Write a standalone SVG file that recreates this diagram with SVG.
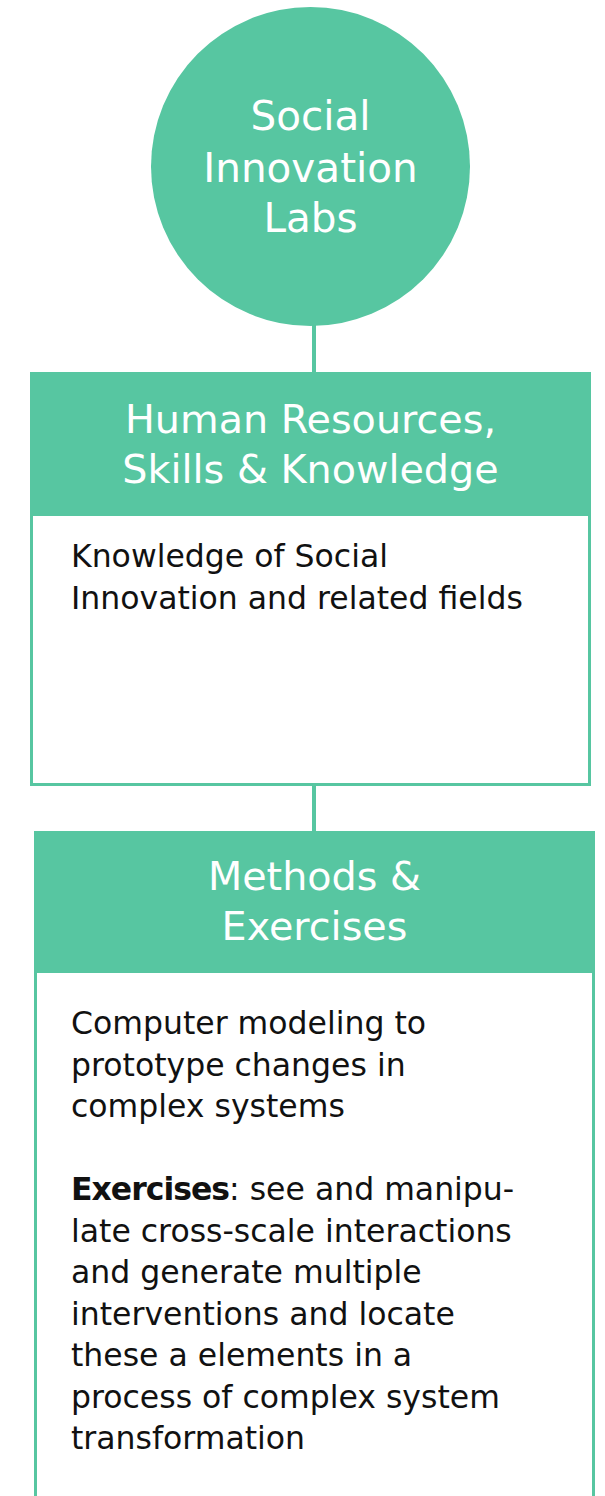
<svg xmlns="http://www.w3.org/2000/svg" width="605" height="1496" viewBox="0 0 605 1496">
<style>
.g{fill:#57C6A1}
.box{fill:#ffffff;stroke:#57C6A1;stroke-width:3}
.w{fill:#ffffff;font-family:"DejaVu Sans",sans-serif;text-anchor:middle}
.b{fill:#111111;font-family:"DejaVu Sans",sans-serif;font-size:31.5px}
.c{stroke:#57C6A1;stroke-width:4;fill:none}
</style>
<rect width="605" height="1496" fill="#ffffff"/>
<g id="connectors">
<line class="c" x1="314" y1="320" x2="314" y2="374"/>
<line class="c" x1="314" y1="784" x2="314" y2="833"/>
</g>
<g id="node-labs">
<circle class="g" cx="310.5" cy="166.5" r="159.5"/>
<text class="w" font-size="40.5" x="310.5" y="130">Social</text>
<text class="w" font-size="40.5" x="310.5" y="182">Innovation</text>
<text class="w" font-size="40.5" x="310.5" y="232">Labs</text>
</g>
<g id="node-human">
<rect class="box" x="31.5" y="373.5" width="558" height="411"/>
<rect class="g" x="30" y="372" width="561" height="144"/>
<text class="w" font-size="39.7" x="310.5" y="433">Human Resources,</text>
<text class="w" font-size="39.7" x="310.5" y="483">Skills &amp; Knowledge</text>
<text class="b" x="71" y="567">Knowledge of Social</text>
<text class="b" x="71" y="609">Innovation and related fields</text>
</g>
<g id="node-methods">
<rect class="box" x="35.5" y="832.5" width="558" height="700"/>
<rect class="g" x="34" y="831" width="561" height="142"/>
<text class="w" font-size="39.7" x="314.5" y="890">Methods &amp;</text>
<text class="w" font-size="39.7" x="314.5" y="940">Exercises</text>
<text class="b" x="71" y="1034">Computer modeling to</text>
<text class="b" x="71" y="1075.5">prototype changes in</text>
<text class="b" x="71" y="1117">complex systems</text>
<text class="b" x="71" y="1200"><tspan font-weight="bold" letter-spacing="-1">Exercises</tspan>: see and manipu-</text>
<text class="b" x="71" y="1241.5">late cross-scale interactions</text>
<text class="b" x="71" y="1283">and generate multiple</text>
<text class="b" x="71" y="1324.5">interventions and locate</text>
<text class="b" x="71" y="1366">these a elements in a</text>
<text class="b" x="71" y="1407.5">process of complex system</text>
<text class="b" x="71" y="1449">transformation</text>
</g>
</svg>
